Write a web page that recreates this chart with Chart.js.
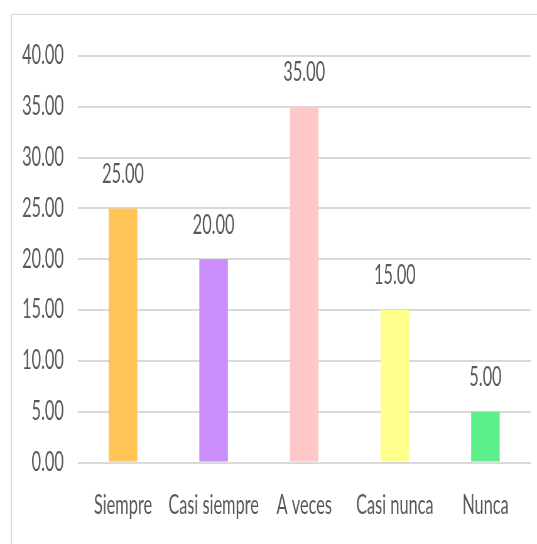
<!DOCTYPE html>
<html>
<head>
<meta charset="utf-8">
<script src="https://cdn.jsdelivr.net/npm/chart.js@4/dist/chart.umd.min.js"></script>
<style>
  html, body { margin: 0; padding: 0; background: #fff; overflow: hidden; }
  body { width: 537px; height: 544px; position: relative; }
  #frame {
    position: absolute; left: 11px; top: 14px; width: 620px; height: 620px;
    border: 1px solid #d9d9d9; box-shadow: 0 0 2px #e6e6e6;
  }
  #chart { position: absolute; left: 0; top: 0; }
</style>
</head>
<body>
<div id="frame"></div>
<!-- drawn wide, then squeezed horizontally like the original picture -->
<canvas id="chart" width="855" height="544" style="width:537px;height:544px"></canvas>
<script>
// ── data ─────────────────────────────────────────────────────────────
const categories = ['Siempre', 'Casi siempre', 'A veces', 'Casi nunca', 'Nunca'];
const values     = [25, 20, 35, 15, 5];
const barColors  = ['#FFC455', '#CA8DFA', '#FFC8C8', '#FFFF8C', '#5BF08C'];
const yMin = 0, yMax = 40, yStep = 5;

// ── styling ──────────────────────────────────────────────────────────
const TEXT = '#595959';
const FONT = { family: 'Lato, "Open Sans", sans-serif', size: 26 };

// value labels above each bar, positioned from the bar elements
const valueLabels = {
  id: 'valueLabels',
  afterDatasetsDraw(chart) {
    const { ctx } = chart;
    const meta = chart.getDatasetMeta(0);
    ctx.save();
    ctx.font = `${FONT.size}px ${FONT.family}`;
    ctx.fillStyle = TEXT;
    ctx.textAlign = 'center';
    ctx.textBaseline = 'middle';
    meta.data.forEach((bar, i) => {
      ctx.fillText(values[i].toFixed(2), bar.x, bar.y - 34);
    });
    ctx.restore();
  }
};

new Chart(document.getElementById('chart'), {
  type: 'bar',
  data: {
    labels: categories,
    datasets: [{
      data: values,
      backgroundColor: barColors,
      borderWidth: 0,
      barPercentage: 0.315,
      categoryPercentage: 1
    }]
  },
  options: {
    responsive: false,
    devicePixelRatio: 1,
    animation: false,
    layout: { padding: { top: 56, right: 10, bottom: 0, left: 0 } },
    plugins: { legend: { display: false }, tooltip: { enabled: false } },
    scales: {
      x: {
        grid: { display: false },
        border: { display: false },
        ticks: { color: TEXT, font: FONT, padding: 20, maxRotation: 0, autoSkip: false },
        afterFit: s => { s.height = 81.5; }
      },
      y: {
        min: yMin, max: yMax,
        grid: { color: '#d9d9d9', lineWidth: 2, drawTicks: false },
        border: { display: false },
        ticks: {
          stepSize: yStep, color: TEXT, font: FONT, padding: 22,
          callback: v => Number(v).toFixed(2)
        },
        afterFit: s => { s.width = 123.7; }
      }
    }
  },
  plugins: [valueLabels]
});
</script>
</body>
</html>
